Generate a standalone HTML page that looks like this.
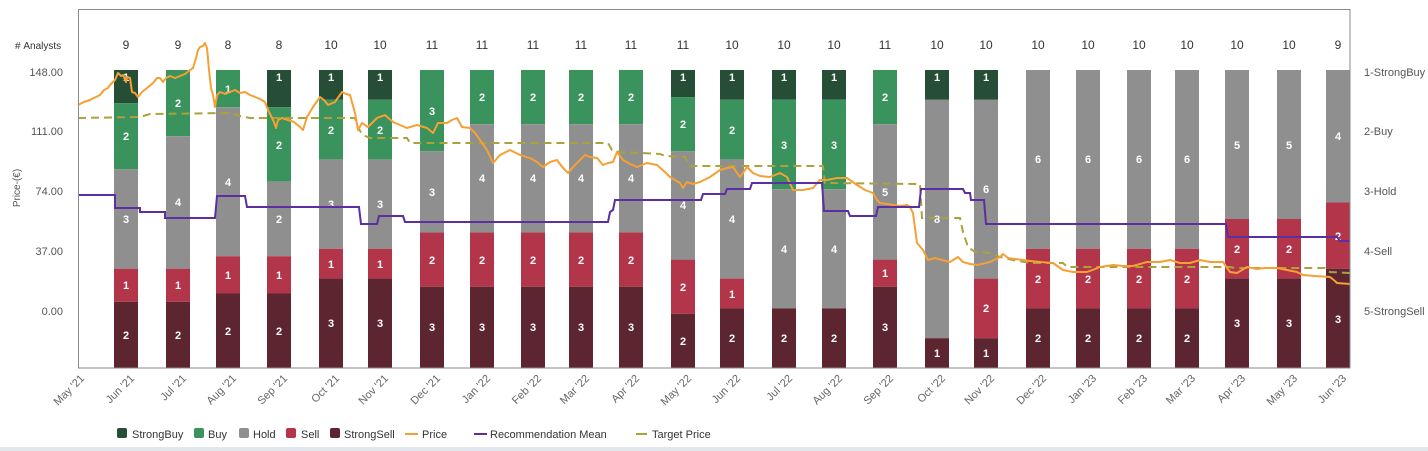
<!DOCTYPE html>
<html><head><meta charset="utf-8"><style>
html,body{margin:0;padding:0;background:#fff;}
body{width:1428px;height:451px;overflow:hidden;position:relative;}
svg{display:block;font-family:"Liberation Sans",sans-serif;}
.dl{font-size:11px;font-weight:bold;fill:#fff;text-anchor:middle;}
.cnt{font-size:12px;fill:#333;text-anchor:middle;}
.yl{font-size:11px;fill:#555;text-anchor:end;}
.rl{font-size:11px;fill:#555;}
.xl{font-size:11px;fill:#666;text-anchor:end;}
.lg{font-size:11px;fill:#333;}
</style></head><body>
<svg width="1428" height="451" viewBox="0 0 1428 451" xmlns="http://www.w3.org/2000/svg">
<rect x="0" y="0" width="1428" height="451" fill="#fff"/>
<rect x="0" y="447" width="1428" height="4" fill="#e2e7ed"/>

<!-- bars -->
<g>
<!-- Jun 21 -->
<rect x="114" y="70" width="24" height="33.1" fill="#264d36"/>
<rect x="114" y="103.1" width="24" height="66.2" fill="#3a925d"/>
<rect x="114" y="169.3" width="24" height="99.4" fill="#8f8f8f"/>
<rect x="114" y="268.7" width="24" height="33.1" fill="#b2354a"/>
<rect x="114" y="301.8" width="24" height="66.2" fill="#5c2530"/>
<!-- Jul 21 -->
<rect x="166" y="70" width="24" height="66.2" fill="#3a925d"/>
<rect x="166" y="136.2" width="24" height="132.5" fill="#8f8f8f"/>
<rect x="166" y="268.7" width="24" height="33.1" fill="#b2354a"/>
<rect x="166" y="301.8" width="24" height="66.2" fill="#5c2530"/>
<!-- Aug 21 -->
<rect x="216" y="70" width="24" height="37.25" fill="#3a925d"/>
<rect x="216" y="107.25" width="24" height="149" fill="#8f8f8f"/>
<rect x="216" y="256.25" width="24" height="37.25" fill="#b2354a"/>
<rect x="216" y="293.5" width="24" height="74.5" fill="#5c2530"/>
<!-- Sep 21 -->
<rect x="267" y="70" width="24" height="37.25" fill="#264d36"/>
<rect x="267" y="107.25" width="24" height="74.5" fill="#3a925d"/>
<rect x="267" y="181.75" width="24" height="74.5" fill="#8f8f8f"/>
<rect x="267" y="256.25" width="24" height="37.25" fill="#b2354a"/>
<rect x="267" y="293.5" width="24" height="74.5" fill="#5c2530"/>
<!-- Oct 21 -->
<rect x="319" y="70" width="24" height="29.8" fill="#264d36"/>
<rect x="319" y="99.8" width="24" height="59.6" fill="#3a925d"/>
<rect x="319" y="159.4" width="24" height="89.4" fill="#8f8f8f"/>
<rect x="319" y="248.8" width="24" height="29.8" fill="#b2354a"/>
<rect x="319" y="278.6" width="24" height="89.4" fill="#5c2530"/>
<!-- Nov 21 -->
<rect x="368" y="70" width="24" height="29.8" fill="#264d36"/>
<rect x="368" y="99.8" width="24" height="59.6" fill="#3a925d"/>
<rect x="368" y="159.4" width="24" height="89.4" fill="#8f8f8f"/>
<rect x="368" y="248.8" width="24" height="29.8" fill="#b2354a"/>
<rect x="368" y="278.6" width="24" height="89.4" fill="#5c2530"/>
<!-- Dec 21 -->
<rect x="420" y="70" width="24" height="81.27" fill="#3a925d"/>
<rect x="420" y="151.27" width="24" height="81.28" fill="#8f8f8f"/>
<rect x="420" y="232.55" width="24" height="54.18" fill="#b2354a"/>
<rect x="420" y="286.73" width="24" height="81.27" fill="#5c2530"/>
<!-- Jan 22 -->
<rect x="470" y="70" width="24" height="54.18" fill="#3a925d"/>
<rect x="470" y="124.18" width="24" height="108.37" fill="#8f8f8f"/>
<rect x="470" y="232.55" width="24" height="54.18" fill="#b2354a"/>
<rect x="470" y="286.73" width="24" height="81.27" fill="#5c2530"/>
<!-- Feb 22 -->
<rect x="521" y="70" width="24" height="54.18" fill="#3a925d"/>
<rect x="521" y="124.18" width="24" height="108.37" fill="#8f8f8f"/>
<rect x="521" y="232.55" width="24" height="54.18" fill="#b2354a"/>
<rect x="521" y="286.73" width="24" height="81.27" fill="#5c2530"/>
<!-- Mar 22 -->
<rect x="569" y="70" width="24" height="54.18" fill="#3a925d"/>
<rect x="569" y="124.18" width="24" height="108.37" fill="#8f8f8f"/>
<rect x="569" y="232.55" width="24" height="54.18" fill="#b2354a"/>
<rect x="569" y="286.73" width="24" height="81.27" fill="#5c2530"/>
<!-- Apr 22 -->
<rect x="619" y="70" width="24" height="54.18" fill="#3a925d"/>
<rect x="619" y="124.18" width="24" height="108.37" fill="#8f8f8f"/>
<rect x="619" y="232.55" width="24" height="54.18" fill="#b2354a"/>
<rect x="619" y="286.73" width="24" height="81.27" fill="#5c2530"/>
<!-- May 22 -->
<rect x="671" y="70" width="24" height="27.09" fill="#264d36"/>
<rect x="671" y="97.09" width="24" height="54.18" fill="#3a925d"/>
<rect x="671" y="151.27" width="24" height="108.37" fill="#8f8f8f"/>
<rect x="671" y="259.64" width="24" height="54.18" fill="#b2354a"/>
<rect x="671" y="313.82" width="24" height="54.18" fill="#5c2530"/>
<!-- Jun 22 -->
<rect x="720" y="70" width="24" height="29.8" fill="#264d36"/>
<rect x="720" y="99.8" width="24" height="59.6" fill="#3a925d"/>
<rect x="720" y="159.4" width="24" height="119.2" fill="#8f8f8f"/>
<rect x="720" y="278.6" width="24" height="29.8" fill="#b2354a"/>
<rect x="720" y="308.4" width="24" height="59.6" fill="#5c2530"/>
<!-- Jul 22 -->
<rect x="772" y="70" width="24" height="29.8" fill="#264d36"/>
<rect x="772" y="99.8" width="24" height="89.4" fill="#3a925d"/>
<rect x="772" y="189.2" width="24" height="119.2" fill="#8f8f8f"/>
<rect x="772" y="308.4" width="24" height="59.6" fill="#5c2530"/>
<!-- Aug 22 -->
<rect x="822" y="70" width="24" height="29.8" fill="#264d36"/>
<rect x="822" y="99.8" width="24" height="89.4" fill="#3a925d"/>
<rect x="822" y="189.2" width="24" height="119.2" fill="#8f8f8f"/>
<rect x="822" y="308.4" width="24" height="59.6" fill="#5c2530"/>
<!-- Sep 22 -->
<rect x="873" y="70" width="24" height="54.18" fill="#3a925d"/>
<rect x="873" y="124.18" width="24" height="135.46" fill="#8f8f8f"/>
<rect x="873" y="259.64" width="24" height="27.09" fill="#b2354a"/>
<rect x="873" y="286.73" width="24" height="81.27" fill="#5c2530"/>
<!-- Oct 22 -->
<rect x="925" y="70" width="24" height="29.8" fill="#264d36"/>
<rect x="925" y="99.8" width="24" height="238.4" fill="#8f8f8f"/>
<rect x="925" y="338.2" width="24" height="29.8" fill="#5c2530"/>
<!-- Nov 22 -->
<rect x="974" y="70" width="24" height="29.8" fill="#264d36"/>
<rect x="974" y="99.8" width="24" height="178.8" fill="#8f8f8f"/>
<rect x="974" y="278.6" width="24" height="59.6" fill="#b2354a"/>
<rect x="974" y="338.2" width="24" height="29.8" fill="#5c2530"/>
<!-- Dec 22 -->
<rect x="1026" y="70" width="24" height="178.8" fill="#8f8f8f"/>
<rect x="1026" y="248.8" width="24" height="59.6" fill="#b2354a"/>
<rect x="1026" y="308.4" width="24" height="59.6" fill="#5c2530"/>
<!-- Jan 23 -->
<rect x="1076" y="70" width="24" height="178.8" fill="#8f8f8f"/>
<rect x="1076" y="248.8" width="24" height="59.6" fill="#b2354a"/>
<rect x="1076" y="308.4" width="24" height="59.6" fill="#5c2530"/>
<!-- Feb 23 -->
<rect x="1127" y="70" width="24" height="178.8" fill="#8f8f8f"/>
<rect x="1127" y="248.8" width="24" height="59.6" fill="#b2354a"/>
<rect x="1127" y="308.4" width="24" height="59.6" fill="#5c2530"/>
<!-- Mar 23 -->
<rect x="1175" y="70" width="24" height="178.8" fill="#8f8f8f"/>
<rect x="1175" y="248.8" width="24" height="59.6" fill="#b2354a"/>
<rect x="1175" y="308.4" width="24" height="59.6" fill="#5c2530"/>
<!-- Apr 23 -->
<rect x="1225" y="70" width="24" height="149" fill="#8f8f8f"/>
<rect x="1225" y="219" width="24" height="59.6" fill="#b2354a"/>
<rect x="1225" y="278.6" width="24" height="89.4" fill="#5c2530"/>
<!-- May 23 -->
<rect x="1277" y="70" width="24" height="149" fill="#8f8f8f"/>
<rect x="1277" y="219" width="24" height="59.6" fill="#b2354a"/>
<rect x="1277" y="278.6" width="24" height="89.4" fill="#5c2530"/>
<!-- Jun 23 -->
<rect x="1326" y="70" width="24" height="132.4" fill="#8f8f8f"/>
<rect x="1326" y="202.4" width="24" height="66.3" fill="#b2354a"/>
<rect x="1326" y="268.7" width="24" height="99.3" fill="#5c2530"/>
</g>

<!-- data labels -->
<g class="dl">
<text x="126" y="81">1</text><text x="126" y="140">2</text><text x="126" y="223">3</text><text x="126" y="289">1</text><text x="126" y="339">2</text>
<text x="178" y="107">2</text><text x="178" y="206">4</text><text x="178" y="289">1</text><text x="178" y="339">2</text>
<text x="228" y="93">1</text><text x="228" y="186">4</text><text x="228" y="279">1</text><text x="228" y="335">2</text>
<text x="279" y="81">1</text><text x="279" y="149">2</text><text x="279" y="223">2</text><text x="279" y="279">1</text><text x="279" y="335">2</text>
<text x="331" y="81">1</text><text x="331" y="134">2</text><text x="331" y="208">3</text><text x="331" y="268">1</text><text x="331" y="327">3</text>
<text x="380" y="81">1</text><text x="380" y="134">2</text><text x="380" y="208">3</text><text x="380" y="268">1</text><text x="380" y="327">3</text>
<text x="432" y="115">3</text><text x="432" y="196">3</text><text x="432" y="264">2</text><text x="432" y="331">3</text>
<text x="482" y="101">2</text><text x="482" y="182">4</text><text x="482" y="264">2</text><text x="482" y="331">3</text>
<text x="533" y="101">2</text><text x="533" y="182">4</text><text x="533" y="264">2</text><text x="533" y="331">3</text>
<text x="581" y="101">2</text><text x="581" y="182">4</text><text x="581" y="264">2</text><text x="581" y="331">3</text>
<text x="631" y="101">2</text><text x="631" y="182">4</text><text x="631" y="264">2</text><text x="631" y="331">3</text>
<text x="683" y="81">1</text><text x="683" y="128">2</text><text x="683" y="209">4</text><text x="683" y="291">2</text><text x="683" y="345">2</text>
<text x="732" y="81">1</text><text x="732" y="134">2</text><text x="732" y="223">4</text><text x="732" y="298">1</text><text x="732" y="342">2</text>
<text x="784" y="81">1</text><text x="784" y="149">3</text><text x="784" y="253">4</text><text x="784" y="342">2</text>
<text x="834" y="81">1</text><text x="834" y="149">3</text><text x="834" y="253">4</text><text x="834" y="342">2</text>
<text x="885" y="101">2</text><text x="885" y="196">5</text><text x="885" y="277">1</text><text x="885" y="331">3</text>
<text x="937" y="81">1</text><text x="937" y="223">8</text><text x="937" y="357">1</text>
<text x="986" y="81">1</text><text x="986" y="193">6</text><text x="986" y="312">2</text><text x="986" y="357">1</text>
<text x="1038" y="163">6</text><text x="1038" y="283">2</text><text x="1038" y="342">2</text>
<text x="1088" y="163">6</text><text x="1088" y="283">2</text><text x="1088" y="342">2</text>
<text x="1139" y="163">6</text><text x="1139" y="283">2</text><text x="1139" y="342">2</text>
<text x="1187" y="163">6</text><text x="1187" y="283">2</text><text x="1187" y="342">2</text>
<text x="1237" y="149">5</text><text x="1237" y="253">2</text><text x="1237" y="327">3</text>
<text x="1289" y="149">5</text><text x="1289" y="253">2</text><text x="1289" y="327">3</text>
<text x="1338" y="140">4</text><text x="1338" y="240">2</text><text x="1338" y="323">3</text>
</g>

<!-- target price dashed -->
<polyline fill="none" stroke="#aaa23a" stroke-width="2" stroke-dasharray="8,5" points="78,118 140,117 150,114 230,113 240,116 250,118 290,118 355,118 358,128 363,135 370,138 407,138 410,143 608,143 612,150 620,152 660,154 665,156 685,157 690,166 823,166 825,183 920,184 922,218 960,218 963,232 968,247 975,252 990,253 1000,257 1013,260 1030,263 1063,263 1067,267 1230,267 1235,268 1325,268 1330,272 1350,273"/>

<!-- price -->
<polyline fill="none" stroke="#f5a035" stroke-width="2" stroke-linejoin="round" points="78,105 84,102 90,100 96,97 100,95 104,90 108,88 110,85 115,80 118,73 121,76 123,75 126,82 127,77 130,78 132,92 135,93 138,97 142,92 147,88 153,83 157,78 160,78 163,82 166,78 170,76 175,78 180,76 185,74 190,70 193,68 196,58 198,50 200,47 203,46 205,43 207,48 209,70 211,88 213,95 215,107 217,95 220,92 225,94 230,92 235,90 240,93 245,92 250,95 255,97 260,99 265,102 268,110 271,116 274,122 276,128 278,120 282,118 288,120 294,122 300,127 303,130 307,117 313,107 320,97 324,100 328,105 335,102 342,92 346,94 350,95 355,113 358,130 362,123 368,127 377,118 385,115 393,122 400,125 407,128 417,125 427,128 433,133 438,123 447,123 452,120 457,118 462,127 470,128 475,133 480,140 487,150 493,163 500,155 510,150 520,155 530,158 537,162 543,167 550,162 557,160 563,168 568,173 573,167 580,160 585,155 590,157 597,158 603,165 608,163 613,162 617,152 623,160 630,164 637,167 647,163 657,165 665,172 670,177 675,180 680,183 683,188 687,182 693,184 700,182 710,177 720,170 727,168 733,167 740,177 747,167 753,173 760,176 770,177 780,173 787,177 793,190 803,190 813,188 820,180 827,180 837,178 847,178 857,185 865,190 873,193 877,200 880,203 893,205 900,206 907,205 910,207 913,213 917,243 923,250 928,260 935,258 942,260 950,262 958,257 963,262 970,264 977,265 990,262 1000,257 1003,254 1008,258 1015,259 1023,260 1030,261 1040,262 1053,263 1063,270 1073,272 1087,272 1095,269 1100,267 1113,265 1123,266 1133,266 1140,264 1147,262 1160,262 1170,260 1180,263 1190,263 1200,260 1210,262 1223,262 1230,272 1237,273 1247,267 1257,269 1265,268 1277,268 1287,270 1297,272 1303,275 1315,276 1330,277 1335,281 1337,283 1350,284"/>

<!-- recommendation mean -->
<polyline fill="none" stroke="#5b2ea3" stroke-width="2" points="78,195 115,195 115,208 140,208 140,212 165,212 165,218 215,218 217,196 245,196 247,207 359,207 361,224 377,224 379,216 403,216 405,222 608,222 610,212 613,210 615,200 701,200 703,194 725,194 727,189 750,189 752,183 822,183 824,211 848,211 850,216 876,216 878,207 919,207 921,189 963,189 965,193 970,193 971,200 984,200 986,224 1226,224 1228,237 1337,237 1340,241 1350,241"/>

<!-- plot border -->
<rect x="78.5" y="9.5" width="1271.5" height="358.5" fill="none" stroke="#8a8a8a" stroke-width="1"/>

<!-- analyst counts -->
<text x="15" y="49" style="font-size:10px;fill:#333">#&#160;Analysts</text>
<g class="cnt">
<text x="126" y="49">9</text><text x="178" y="49">9</text><text x="228" y="49">8</text><text x="279" y="49">8</text>
<text x="331" y="49">10</text><text x="380" y="49">10</text><text x="432" y="49">11</text><text x="482" y="49">11</text>
<text x="533" y="49">11</text><text x="581" y="49">11</text><text x="631" y="49">11</text><text x="683" y="49">11</text>
<text x="732" y="49">10</text><text x="784" y="49">10</text><text x="834" y="49">10</text><text x="885" y="49">11</text>
<text x="937" y="49">10</text><text x="986" y="49">10</text><text x="1038" y="49">10</text><text x="1088" y="49">10</text>
<text x="1139" y="49">10</text><text x="1187" y="49">10</text><text x="1237" y="49">10</text><text x="1289" y="49">10</text>
<text x="1338" y="49">9</text>
</g>

<!-- left axis labels -->
<g class="yl">
<text x="63" y="76">148.00</text>
<text x="63" y="135">111.00</text>
<text x="63" y="195">74.00</text>
<text x="63" y="255">37.00</text>
<text x="63" y="315">0.00</text>
</g>
<text x="0" y="0" transform="translate(20,188) rotate(-90)" style="font-size:10px;fill:#555;text-anchor:middle">Price-(€)</text>

<!-- right axis labels -->
<g class="rl">
<text x="1364" y="76">1-StrongBuy</text>
<text x="1364" y="135">2-Buy</text>
<text x="1364" y="195">3-Hold</text>
<text x="1364" y="255">4-Sell</text>
<text x="1364" y="315">5-StrongSell</text>
</g>

<!-- x labels -->
<g class="xl">
<text transform="translate(85,379) rotate(-45)">May '21</text>
<text transform="translate(135,379) rotate(-45)">Jun '21</text>
<text transform="translate(187,379) rotate(-45)">Jul '21</text>
<text transform="translate(237,379) rotate(-45)">Aug '21</text>
<text transform="translate(288,379) rotate(-45)">Sep '21</text>
<text transform="translate(340,379) rotate(-45)">Oct '21</text>
<text transform="translate(389,379) rotate(-45)">Nov '21</text>
<text transform="translate(441,379) rotate(-45)">Dec '21</text>
<text transform="translate(491,379) rotate(-45)">Jan '22</text>
<text transform="translate(542,379) rotate(-45)">Feb '22</text>
<text transform="translate(590,379) rotate(-45)">Mar '22</text>
<text transform="translate(640,379) rotate(-45)">Apr '22</text>
<text transform="translate(692,379) rotate(-45)">May '22</text>
<text transform="translate(741,379) rotate(-45)">Jun '22</text>
<text transform="translate(793,379) rotate(-45)">Jul '22</text>
<text transform="translate(843,379) rotate(-45)">Aug '22</text>
<text transform="translate(894,379) rotate(-45)">Sep '22</text>
<text transform="translate(946,379) rotate(-45)">Oct '22</text>
<text transform="translate(995,379) rotate(-45)">Nov '22</text>
<text transform="translate(1047,379) rotate(-45)">Dec '22</text>
<text transform="translate(1097,379) rotate(-45)">Jan '23</text>
<text transform="translate(1148,379) rotate(-45)">Feb '23</text>
<text transform="translate(1196,379) rotate(-45)">Mar '23</text>
<text transform="translate(1246,379) rotate(-45)">Apr '23</text>
<text transform="translate(1298,379) rotate(-45)">May '23</text>
<text transform="translate(1347,379) rotate(-45)">Jun '23</text>
</g>

<!-- legend -->
<g>
<rect x="117" y="428" width="10" height="10" rx="2" fill="#264d36"/>
<text class="lg" x="132" y="438">StrongBuy</text>
<rect x="194" y="428" width="10" height="10" rx="2" fill="#3a925d"/>
<text class="lg" x="208" y="438">Buy</text>
<rect x="239" y="428" width="10" height="10" rx="2" fill="#8f8f8f"/>
<text class="lg" x="253" y="438">Hold</text>
<rect x="286" y="428" width="10" height="10" rx="2" fill="#b2354a"/>
<text class="lg" x="301" y="438">Sell</text>
<rect x="330" y="428" width="10" height="10" rx="2" fill="#5c2530"/>
<text class="lg" x="344" y="438">StrongSell</text>
<line x1="405" y1="434" x2="418" y2="434" stroke="#f5a035" stroke-width="2"/>
<text class="lg" x="422" y="438">Price</text>
<line x1="474" y1="434" x2="487" y2="434" stroke="#5b2ea3" stroke-width="2"/>
<text class="lg" x="490" y="438">Recommendation Mean</text>
<line x1="636" y1="434" x2="647" y2="434" stroke="#aaa23a" stroke-width="2"/>
<text class="lg" x="652" y="438">Target Price</text>
</g>
</svg>
</body></html>
